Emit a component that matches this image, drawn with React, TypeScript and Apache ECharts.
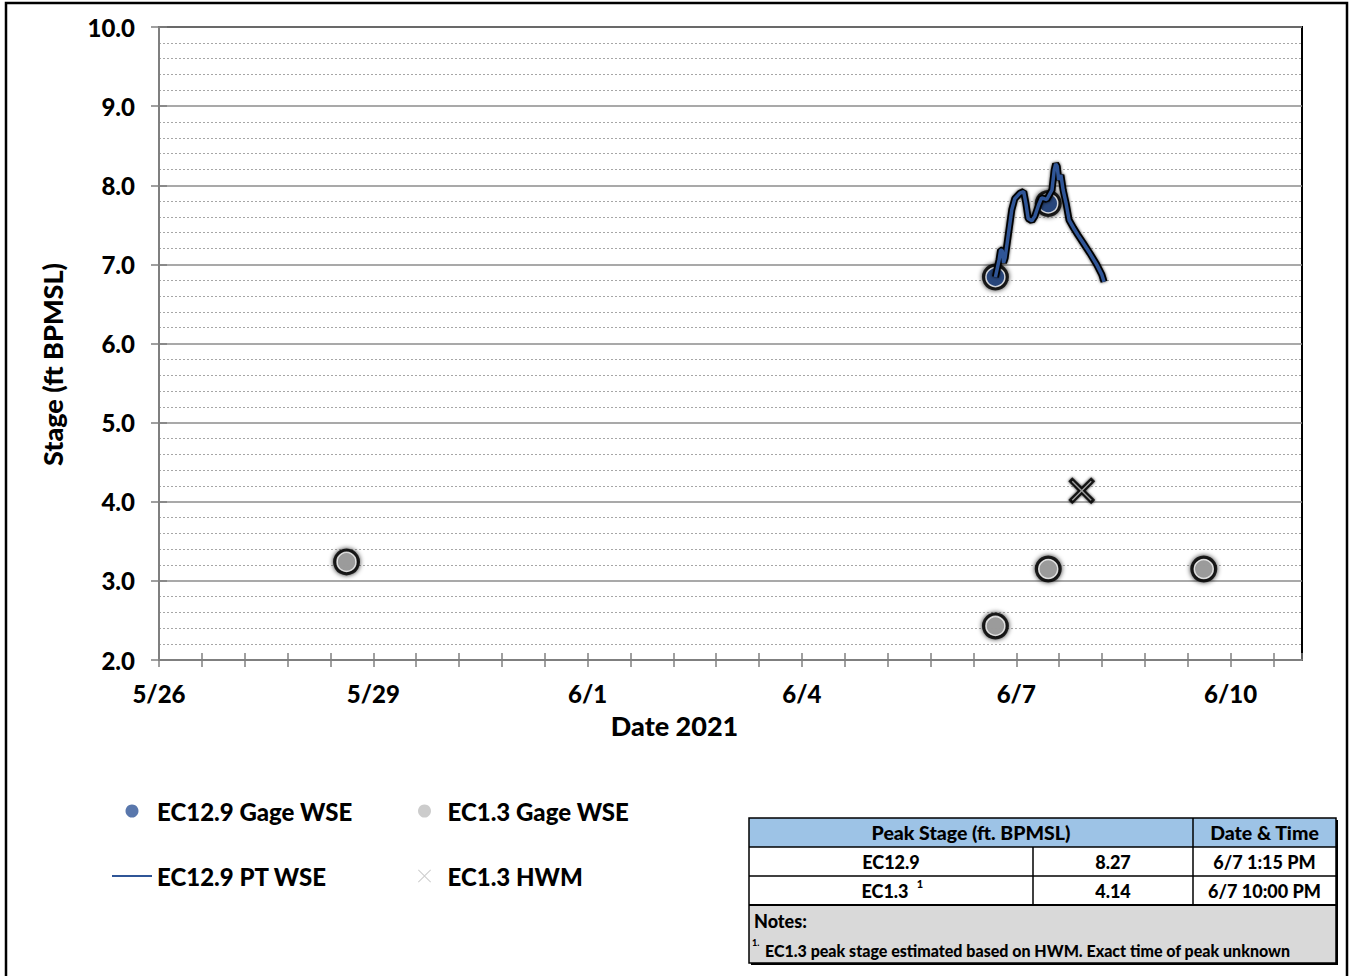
import React, { useEffect, useRef } from "react";
import * as echarts from "echarts";

// ---- data -------------------------------------------------------------
// Continuous pressure-transducer record at EC12.9 (MM-DD HH:MM, ft BPMSL)
const ptTimes = [
  "06-06 17:00", "06-06 18:15", "06-06 18:45", "06-06 19:15", "06-06 19:45",
  "06-06 20:15", "06-06 22:30", "06-06 23:30", "06-07 01:15", "06-07 02:30",
  "06-07 03:15", "06-07 04:00", "06-07 05:15", "06-07 06:15", "06-07 07:30",
  "06-07 08:30", "06-07 10:15", "06-07 12:00", "06-07 12:45", "06-07 13:15",
  "06-07 13:45", "06-07 14:15", "06-07 15:00", "06-07 15:45", "06-07 16:45",
  "06-07 17:45", "06-07 19:15", "06-07 20:45", "06-07 22:30", "06-08 00:45",
  "06-08 03:00", "06-08 04:45", "06-08 05:30",
];
const ptValues = [
  6.84, 7.06, 7.18, 7.18, 7.02,
  7.08, 7.69, 7.83, 7.90, 7.92,
  7.77, 7.58, 7.55, 7.61, 7.75,
  7.84, 7.82, 7.94, 8.19, 8.27,
  8.24, 8.07, 8.13, 7.94, 7.77,
  7.56, 7.46, 7.37, 7.27, 7.14,
  7.00, 6.87, 6.78,
];

// Gage readings
const gage12Times = ["06-06 17:00", "06-07 10:45"];
const gage12Values = [6.84, 7.77];
const gage13Times = ["05-28 15:00", "06-06 17:00", "06-07 10:45", "06-09 15:00"];
const gage13Values = [3.24, 2.43, 3.15, 3.15];

// High-water mark
const hwmTimes = ["06-07 22:00"];
const hwmValues = [4.14];

// Axis settings
const xStartDay = [2021, 4, 26]; // 5/26/2021 (month is zero-based)
const xSpanDays = 16;
const xTickDays = 0.6;
const xLabelEveryDays = 3;
const yMin = 2;
const yMax = 10;

const seriesNames = {
  gage12: "EC12.9 Gage WSE",
  pt12: "EC12.9 PT WSE",
  gage13: "EC1.3 Gage WSE",
  hwm13: "EC1.3 HWM",
};

// ---- helpers ----------------------------------------------------------
const BASE = Date.UTC(xStartDay[0], xStartDay[1], xStartDay[2]);
const DAY = 86400000;

function toDay(s: string): number {
  const [md, hm] = s.split(" ");
  const [m, d] = md.split("-").map(Number);
  const [h, mi] = hm.split(":").map(Number);
  return (Date.UTC(xStartDay[0], m - 1, d, h, mi) - BASE) / DAY;
}

function fmtStamp(s: string): string {
  const [md, hm] = s.split(" ");
  const [m, d] = md.split("-").map(Number);
  const [h, mi] = hm.split(":").map(Number);
  const ap = h >= 12 ? "PM" : "AM";
  const h12 = h % 12 === 0 ? 12 : h % 12;
  return `${m}/${d} ${h12}:${String(mi).padStart(2, "0")} ${ap}`;
}

function pairs(times: string[], values: number[]) {
  return times.map((t, i) => [toDay(t), values[i]]);
}

const FONT = "Lato, 'Open Sans', sans-serif";
const WEIGHT = 900;
const BLUE = "#2F5597";
const GRAY = "#BFBFBF";
const AXIS_GRAY = "#7F7F7F";

const X_THICK =
  "path://M0,15L15,0L50,35L85,0L100,15L65,50L100,85L85,100L50,65L15,100L0,85L35,50Z";
const X_THIN =
  "path://M0,5L5,0L50,45L95,0L100,5L55,50L100,95L95,100L50,55L5,100L0,95L45,50Z";
const LINE_ICON = "path://M0,0H40V2H0Z";

export default function App() {
  const ref = useRef<HTMLDivElement>(null);

  useEffect(() => {
    if (!ref.current) return;
    const chart = echarts.init(ref.current, undefined, { renderer: "svg" });

    const peakIdx = ptValues.indexOf(Math.max(...ptValues));
    const peak12 = ptValues[peakIdx].toFixed(2);
    const peak12Time = fmtStamp(ptTimes[peakIdx]);
    const peak13 = hwmValues[0].toFixed(2);
    const peak13Time = fmtStamp(hwmTimes[0]);

    const xLabel = (v: number) => {
      const k = v / xLabelEveryDays;
      if (Math.abs(k - Math.round(k)) > 1e-6) return "";
      const dt = new Date(BASE + Math.round(v) * DAY);
      return `${dt.getUTCMonth() + 1}/${dt.getUTCDate()}`;
    };

    const labelFont = { fontFamily: FONT, fontWeight: WEIGHT, color: "#000" };

    // table layout
    const cols = [749, 1033, 1193, 1336];
    const rows = [818, 847, 876, 905, 963];
    const tw = cols[3] - cols[0];
    const th = rows[4] - rows[0];
    const cellText = (text: string, x: number, y: number, size = 18, align = "center") => ({
      type: "text",
      style: {
        text,
        x,
        y,
        align,
        verticalAlign: "middle",
        fontFamily: FONT,
        fontWeight: WEIGHT,
        fontSize: size,
        fill: "#000",
      },
    });
    const hLine = (y: number, x1: number, x2: number, w = 1.5) => ({
      type: "line",
      shape: { x1, y1: y, x2, y2: y },
      style: { stroke: "#000", lineWidth: w },
    });
    const vLine = (x: number, y1: number, y2: number, w = 1.5) => ({
      type: "line",
      shape: { x1: x, y1, x2: x, y2 },
      style: { stroke: "#000", lineWidth: w },
    });
    const rowMid = (i: number) => (rows[i] + rows[i + 1]) / 2;
    const colMid = (a: number, b: number) => (cols[a] + cols[b]) / 2;

    const tableGraphics: any[] = [
      { type: "rect", shape: { x: cols[0] + 2, y: rows[0] + 2, width: tw, height: th }, style: { fill: "#000" } },
      { type: "rect", shape: { x: cols[0], y: rows[0], width: tw, height: rows[1] - rows[0] }, style: { fill: "#9DC3E6" } },
      { type: "rect", shape: { x: cols[0], y: rows[1], width: tw, height: rows[3] - rows[1] }, style: { fill: "#fff" } },
      { type: "rect", shape: { x: cols[0], y: rows[3], width: tw, height: rows[4] - rows[3] }, style: { fill: "#D9D9D9" } },
      hLine(rows[1], cols[0], cols[3]),
      hLine(rows[2], cols[0], cols[3]),
      hLine(rows[3], cols[0], cols[3], 2),
      vLine(cols[2], rows[0], rows[3]),
      vLine(cols[1], rows[1], rows[3]),
      { type: "rect", shape: { x: cols[0], y: rows[0], width: tw, height: th }, style: { fill: "none", stroke: "#000", lineWidth: 1.5 } },
      cellText("Peak Stage (ft. BPMSL)", colMid(0, 2), rowMid(0), 19.5),
      cellText("Date & Time", colMid(2, 3), rowMid(0), 19.5),
      cellText("EC12.9", colMid(0, 1), rowMid(1)),
      cellText(peak12, colMid(1, 2), rowMid(1)),
      cellText(peak12Time, colMid(2, 3), rowMid(1)),
      cellText("EC1.3", colMid(0, 1) - 6, rowMid(2)),
      cellText("1", colMid(0, 1) + 29, rowMid(2) - 7, 11),
      cellText(peak13, colMid(1, 2), rowMid(2)),
      cellText(peak13Time, colMid(2, 3), rowMid(2)),
      cellText("Notes:", cols[0] + 5, rows[3] + 16, 18, "left"),
      cellText("1.", cols[0] + 3, rows[3] + 37, 9, "left"),
      cellText(
        "EC1.3 peak stage estimated based on HWM. Exact time of peak unknown",
        cols[0] + 16,
        rows[3] + 45,
        16,
        "left"
      ),
    ];

    const gageAll = [...pairs(gage12Times, gage12Values), ...pairs(gage13Times, gage13Values)];

    chart.setOption({
      animation: false,
      backgroundColor: "#fff",
      grid: {
        left: 159,
        right: 50,
        top: 27,
        bottom: 316,
        show: true,
        borderColor: "#000",
        borderWidth: 2,
        backgroundColor: "transparent",
        containLabel: false,
        outerBoundsMode: "none",
      },
      xAxis: [
        {
          type: "value",
          min: 0,
          max: xSpanDays,
          interval: xTickDays,
          position: "bottom",
          name: "Date 2021",
          nameLocation: "middle",
          nameGap: 52,
          nameTextStyle: { ...labelFont, fontSize: 27, padding: [0, 112, 0, 0] },
          axisLine: { show: true, lineStyle: { color: AXIS_GRAY, width: 2 } },
          axisTick: { show: true, length: 7, lineStyle: { color: AXIS_GRAY, width: 1.5 } },
          axisLabel: { ...labelFont, fontSize: 24, margin: 21, formatter: xLabel, showMinLabel: true, showMaxLabel: false },
          splitLine: { show: false },
        },
        {
          type: "value",
          min: 0,
          max: xSpanDays,
          interval: xTickDays,
          position: "bottom",
          axisLine: { show: false },
          axisTick: { show: true, inside: true, length: 7, lineStyle: { color: AXIS_GRAY, width: 1.5 } },
          axisLabel: { show: false },
          splitLine: { show: false },
        },
      ],
      yAxis: [
        {
          type: "value",
          min: yMin,
          max: yMax,
          interval: 1,
          position: "left",
          name: "Stage (ft BPMSL)",
          nameLocation: "middle",
          nameGap: 93,
          nameTextStyle: { ...labelFont, fontSize: 27, padding: [0, 42, 0, 0] },
          axisLine: { show: true, lineStyle: { color: AXIS_GRAY, width: 2 } },
          axisTick: { show: true, length: 8, lineStyle: { color: AXIS_GRAY, width: 1.5 } },
          axisLabel: { ...labelFont, fontSize: 24, margin: 24, formatter: (v: number) => v.toFixed(1) },
          splitLine: { show: true, lineStyle: { color: "#8C8C8C", width: 1.5 } },
          minorTick: { show: false, splitNumber: 5 },
          minorSplitLine: { show: true, lineStyle: { color: "#A6A6A6", width: 1, type: [2, 2] } },
        },
        {
          type: "value",
          min: yMin,
          max: yMax,
          interval: 1,
          position: "left",
          axisLine: { show: false },
          axisTick: { show: true, inside: true, length: 8, lineStyle: { color: AXIS_GRAY, width: 1.5 } },
          axisLabel: { show: false },
          splitLine: { show: false },
        },
      ],
      legend: [
        {
          left: 112,
          top: 799,
          padding: 0,
          orient: "vertical",
          itemWidth: 40,
          itemHeight: 13,
          itemGap: 41,
          selectedMode: false,
          textStyle: { ...labelFont, fontSize: 24 },
          data: [
            { name: seriesNames.gage12, icon: "circle", itemStyle: { color: BLUE, borderWidth: 0, shadowBlur: 0 } },
            { name: seriesNames.pt12, icon: LINE_ICON, itemStyle: { color: BLUE, borderWidth: 0, shadowBlur: 0 } },
          ],
        },
        {
          left: 418,
          top: 799,
          padding: 0,
          orient: "vertical",
          itemWidth: 36,
          itemHeight: 13,
          itemGap: 41,
          selectedMode: false,
          textStyle: { ...labelFont, fontSize: 24 },
          data: [
            { name: seriesNames.gage13, icon: "circle", itemStyle: { color: GRAY, borderWidth: 0, shadowBlur: 0 } },
            { name: seriesNames.hwm13, icon: X_THIN, itemStyle: { color: GRAY, borderWidth: 0, shadowBlur: 0 } },
          ],
        },
      ],
      graphic: [
        {
          type: "rect",
          shape: { x: 6, y: 3, width: 1341, height: 990 },
          style: { fill: "none", stroke: "#000", lineWidth: 2.5 },
          silent: true,
        },
        ...tableGraphics,
      ],
      series: [
        {
          type: "line",
          name: "pt-outline",
          data: pairs(ptTimes, ptValues),
          symbol: "none",
          silent: true,
          lineStyle: { color: "#000", width: 7, shadowColor: "rgba(0,0,0,0.8)", shadowBlur: 3 },
        },
        {
          type: "line",
          name: seriesNames.pt12,
          data: pairs(ptTimes, ptValues),
          symbol: "none",
          color: BLUE,
          lineStyle: { color: BLUE, width: 3.5 },
        },
        {
          type: "scatter",
          name: "gage-halo",
          data: gageAll,
          symbol: "circle",
          symbolSize: 27,
          silent: true,
          itemStyle: { color: "#000", shadowColor: "#000", shadowBlur: 5 },
        },
        {
          type: "scatter",
          name: seriesNames.gage12,
          data: pairs(gage12Times, gage12Values),
          symbol: "circle",
          symbolSize: 19,
          color: BLUE,
          itemStyle: { color: BLUE, borderColor: "#fff", borderWidth: 1.5 },
        },
        {
          type: "scatter",
          name: seriesNames.gage13,
          data: pairs(gage13Times, gage13Values),
          symbol: "circle",
          symbolSize: 19,
          color: GRAY,
          itemStyle: { color: GRAY, borderColor: "#fff", borderWidth: 1.5 },
        },
        {
          type: "scatter",
          name: "hwm-halo",
          data: pairs(hwmTimes, hwmValues),
          symbol: X_THICK,
          symbolSize: 27,
          silent: true,
          itemStyle: { color: "#000", shadowColor: "#000", shadowBlur: 3 },
        },
        {
          type: "scatter",
          name: seriesNames.hwm13,
          data: pairs(hwmTimes, hwmValues),
          symbol: X_THIN,
          symbolSize: 20,
          color: GRAY,
          itemStyle: { color: GRAY },
        },
      ],
    });

    return () => chart.dispose();
  }, []);

  return (
    <div
      ref={ref}
      style={{ position: "fixed", left: 0, top: 0, width: 1352, height: 976, background: "#fff" }}
    />
  );
}
